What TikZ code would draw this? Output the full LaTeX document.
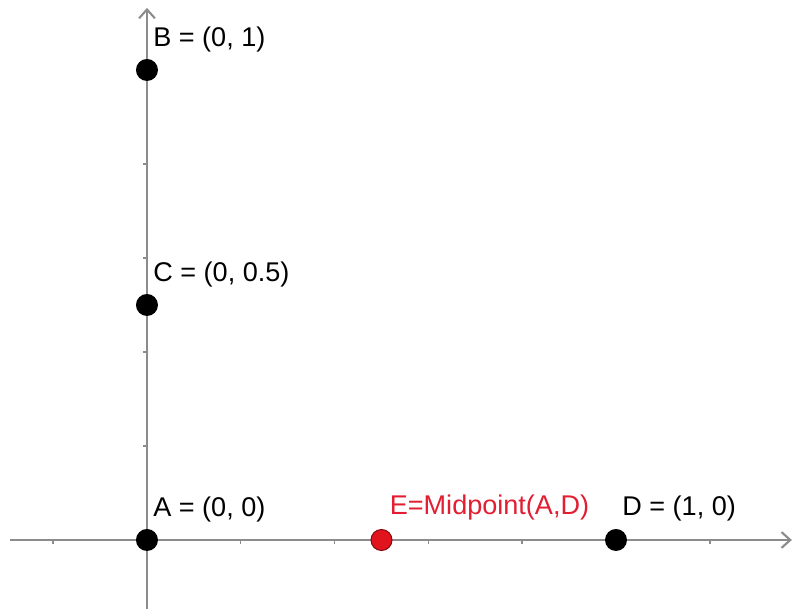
\documentclass[tikz,border=0pt]{standalone}
\usepackage{fontspec}
\setmainfont{Liberation Sans}
\definecolor{axisgray}{RGB}{140,140,140}
\definecolor{ptred}{RGB}{225,20,30}
\definecolor{lblred}{RGB}{225,30,50}
\usetikzlibrary{arrows.meta,positioning,calc}

\begin{document}
\begin{tikzpicture}[x=9.38cm, y=9.4cm,
        axis/.style={axisgray, line width=1.2pt, -{Straight Barb[length=5pt, width=9pt]}},
        tick/.style={axisgray, line width=0.8pt},
        pt/.style={circle, fill=black, inner sep=0pt, minimum size=0.44cm},
        redpt/.style={circle, fill=ptred, draw=ptred!60!black, line width=0.6pt,
                      inner sep=0pt, minimum size=0.42cm},
        lbl/.style={font=\fontsize{15.4}{18}\selectfont, anchor=base west, inner sep=0pt}
      ]
        \useasboundingbox (-0.3134,-0.1468) rectangle (1.3838,1.1489);

        % axes
        \draw[axis] (-0.292,0) -- (1.375,0);
        \draw[axis] (0,-0.147) -- (0,1.132);

        % ticks
        \foreach \t in {-0.2,0.2,0.4,0.6,0.8,1.2}
          \draw[tick] (\t,0) -- (\t,-0.008);
        \foreach \t in {0.2,0.4,0.6,0.8}
          \draw[tick] (0,\t) -- (-0.008,\t);

        % points
        \node[pt] (A) at (0,0) {};
        \node[pt] (B) at (0,1) {};
        \node[pt] (C) at (0,0.5) {};
        \node[pt] (D) at (1,0) {};
        \node[redpt] (E) at (0.5,0) {};

        % labels
        \node[lbl] (labA) at ($(A)+(0.12cm,0.46cm)$) {A = (0, 0)};
        \node[lbl] (labB) at ($(B)+(0.12cm,0.46cm)$) {B = (0, 1)};
        \node[lbl] (labC) at ($(C)+(0.12cm,0.46cm)$) {C = (0, 0.5)};
        \node[lbl] (labD) at ($(D)+(0.12cm,0.48cm)$) {D = (1, 0)};
        \node[lbl, lblred] (labE) at ($(E)+(0.16cm,0.50cm)$) {E=Midpoint(A,D)};
      \end{tikzpicture}
\end{document}
